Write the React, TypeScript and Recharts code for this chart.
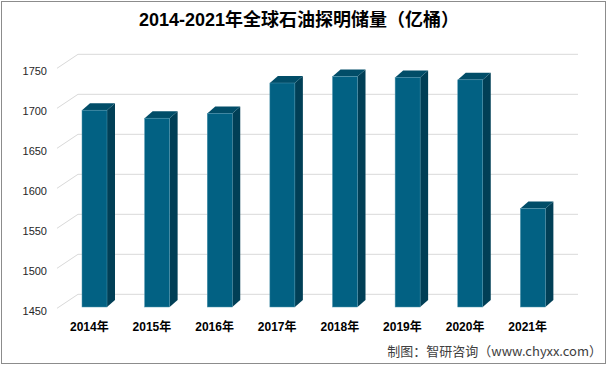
import { Bar, BarChart, CartesianGrid, XAxis, YAxis } from "recharts";

const YEARS = ["2014年", "2015年", "2016年", "2017年", "2018年", "2019年", "2020年", "2021年"];
const RESERVES = [1696, 1686, 1692, 1730, 1738, 1737, 1734, 1573];
const Y_TICKS = [1450, 1500, 1550, 1600, 1650, 1700, 1750];

const FRONT = "#026183";
const SIDE = "#013F56";
const TOP = "#014D68";
const GRID = "#d9d9d9";
const FONT = "'Liberation Sans', 'Noto Sans CJK SC', sans-serif";

// depth of the fake 3d box
const DX = 8;
const DY = 7;
// bars sit this far in front of the back wall
const WALL = 12.7;

const data = YEARS.map((year, i) => ({ year, value: RESERVES[i] }));

function Box3D(props: any) {
  const { x, y, width: w, height: h } = props;
  if (h == null || h <= 0) return null;
  return (
    <g>
      <polygon
        points={`${x + w},${y} ${x + w + DX},${y - DY} ${x + w + DX},${y + h - DY} ${x + w},${y + h}`}
        fill={SIDE}
      />
      <polygon
        points={`${x},${y} ${x + DX},${y - DY} ${x + w + DX},${y - DY} ${x + w},${y}`}
        fill={TOP}
      />
      <rect x={x} y={y} width={w} height={h} fill={FRONT} stroke="#4f94ad" strokeWidth={0.5} />
    </g>
  );
}

function WallLine(props: any) {
  const back = props.y1 - WALL;
  return (
    <g key={props.key}>
      <line x1={57} y1={back + 14} x2={78} y2={back} stroke={GRID} strokeWidth={1} />
      <line x1={78} y1={back} x2={578} y2={back} stroke={GRID} strokeWidth={1} />
    </g>
  );
}

function YTick(props: any) {
  const { y, payload } = props;
  return (
    <text
      x={47}
      y={y + 4.3}
      textAnchor="end"
      dominantBaseline="central"
      fontSize={11}
      fontFamily={FONT}
      fill="#262626"
    >
      {payload.value}
    </text>
  );
}

function XTick(props: any) {
  const { x, payload } = props;
  return (
    <text
      x={x - 5}
      y={327}
      textAnchor="middle"
      dominantBaseline="central"
      fontSize={12}
      fontWeight="bold"
      fontFamily={FONT}
      fill="#000"
    >
      {payload.value}
    </text>
  );
}

export default function App() {
  return (
    <div
      style={{
        position: "absolute",
        left: 0,
        top: 0,
        width: 609,
        height: 366,
        background: "#fff",
      }}
    >
      <div
        style={{
          position: "absolute",
          left: 1,
          top: 1,
          width: 605,
          height: 363,
          boxSizing: "border-box",
          border: "1px solid #8c8c8c",
        }}
      />
      <div
        style={{
          position: "absolute",
          left: 0,
          top: 8,
          width: 598,
          textAlign: "center",
          fontFamily: FONT,
          fontWeight: "bold",
          fontSize: 18,
          lineHeight: "24px",
          color: "#000",
        }}
      >
        2014-2021年全球石油探明储量（亿桶）
      </div>
      <BarChart
        width={609}
        height={366}
        data={data}
        margin={{ top: 67, right: 45, left: 0, bottom: 0 }}
        barSize={25}
        style={{ position: "absolute", left: 0, top: 0 }}
      >
        <CartesianGrid vertical={false} horizontal={WallLine} />
        <XAxis
          dataKey="year"
          height={59}
          axisLine={false}
          tickLine={false}
          tick={XTick}
          interval={0}
        />
        <YAxis
          width={63}
          domain={[1450, 1750]}
          ticks={Y_TICKS}
          axisLine={false}
          tickLine={false}
          tick={YTick}
        />
        <Bar dataKey="value" shape={Box3D} isAnimationActive={false} />
      </BarChart>
      <div
        style={{
          position: "absolute",
          right: 7,
          top: 342,
          fontFamily: "'Noto Sans CJK SC', sans-serif",
          fontSize: 13,
          lineHeight: "18px",
          color: "#404040",
          whiteSpace: "nowrap",
        }}
      >
        制图：智研咨询（www.chyxx.com）
      </div>
    </div>
  );
}
